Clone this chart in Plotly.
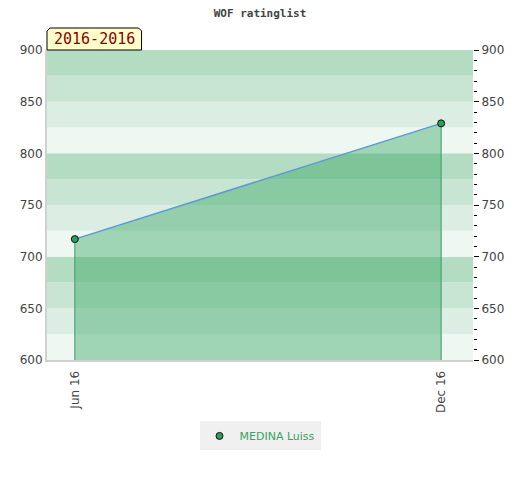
import plotly.graph_objects as go

# data
months = ["Jun 16", "Dec 16"]
rating = [717, 829]
player = "MEDINA Luiss"
period = "2016-2016"

y_min, y_max = 600, 900

fig = go.Figure()

# banded background, 25 points per band, 4 shades per 100
band_cols = ["#eef7f1", "#dcede3", "#c8e5d3", "#b3dcc3"]
for i, lo in enumerate(range(y_min, y_max, 25)):
    fig.add_shape(type="rect", xref="paper", yref="y", x0=0, x1=1, y0=lo, y1=lo + 25,
                  fillcolor=band_cols[i % 4], line_width=0, layer="below")

# vertical drop lines from each point
vx, vy = [], []
for m, r in zip(months, rating):
    vx += [m, m, None]
    vy += [y_min, r, None]
fig.add_trace(go.Scatter(x=vx, y=vy, mode="lines", line=dict(color="#3f9a5e", width=1),
                         showlegend=False, hoverinfo="skip"))

fig.add_trace(go.Scatter(x=months, y=rating, mode="lines", fill="tozeroy",
                         fillcolor="rgba(50,165,95,0.42)",
                         line=dict(color="#5b9bd5", width=1.5), showlegend=False))
fig.add_trace(go.Scatter(x=months, y=rating, mode="markers", name=player,
                         marker=dict(size=7, color="#2e9e5b", line=dict(color="#111", width=1))))
# invisible trace for right axis
fig.add_trace(go.Scatter(x=months, y=rating, yaxis="y2", mode="markers",
                         marker=dict(opacity=0), showlegend=False, hoverinfo="skip"))

# page body has an 8px margin, so the figure is drawn 8px smaller and shifted
W, H = 512, 472
tick_font = dict(family="DejaVu Sans", size=12, color="#444")
fig.update_layout(
    width=W, height=H,
    margin=dict(l=37, r=47, t=42, b=120),
    paper_bgcolor="white", plot_bgcolor="white",
    title=dict(text="<b>WOF ratinglist</b>", x=(260 - 8) / W, xanchor="center", y=1 - 5 / H, yanchor="middle",
               font=dict(family="DejaVu Sans Mono", size=11, color="#444")),
    xaxis=dict(type="category", range=[-0.076, 1.087], tickangle=-90, tickfont=tick_font,
               ticklabelstandoff=4,
               showgrid=False, showline=True, linecolor="#d0d0d0", linewidth=2, ticks="", zeroline=False),
    yaxis=dict(range=[y_min, y_max], tickvals=list(range(y_min, y_max + 1, 50)), tickfont=tick_font,
               showgrid=False, showline=True, linecolor="#d0d0d0", linewidth=2, ticks="", zeroline=False),
    yaxis2=dict(range=[y_min, y_max], overlaying="y", side="right", tickvals=list(range(y_min, y_max + 1, 50)),
                tickfont=tick_font, showgrid=False, ticks="outside", ticklen=5, tickcolor="#000",
                minor=dict(dtick=10, ticks="outside", ticklen=3, tickcolor="#000"), zeroline=False),
    legend=dict(orientation="h", x=0.5, xanchor="center", y=-0.245, yanchor="middle",
                bgcolor="#f0f0f0", font=dict(family="DejaVu Sans", size=11, color="#3aa060")),
    showlegend=True,
)

# period tag above the plot
w, h = 95 / 428, 22 / 310
cx, cy = 3 / 428, 3 / 310
fig.add_shape(type="path", xref="paper", yref="paper",
              path=f"M 0 1 L 0 {1 + h - cy} L {cx} {1 + h} L {w - cx} {1 + h} L {w} {1 + h - cy} L {w} 1 Z",
              fillcolor="#ffffcc", line=dict(color="#000", width=1))
fig.add_annotation(text=period, xref="paper", yref="paper", x=w / 2, y=1 + h / 2, showarrow=False,
                   xanchor="center", yanchor="middle",
                   font=dict(family="DejaVu Sans Mono", size=15, color="#8b0000"))

fig.write_html("out.html")
